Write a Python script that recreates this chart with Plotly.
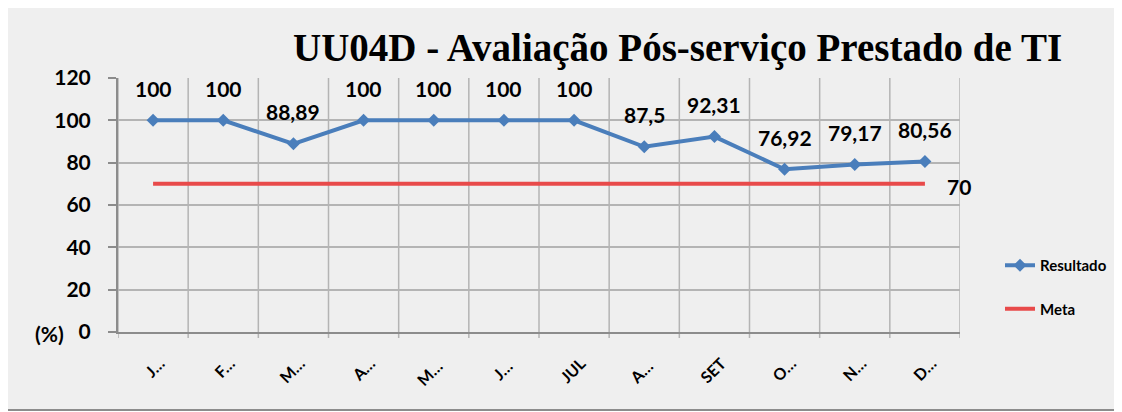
import plotly.graph_objects as go

categories = ["J…", "F…", "M…", "A…", "M… ", "J… ", "JUL", "A… ", "SET", "O…", "N…", "D…"]
resultado = [100, 100, 88.89, 100, 100, 100, 100, 87.5, 92.31, 76.92, 79.17, 80.56]
meta = [70] * 12
y_ticks = [0, 20, 40, 60, 80, 100, 120]

title = "UU04D - Avaliação Pós-serviço Prestado de TI"
font_main = "Lato, 'Open Sans', sans-serif"

OFF = 8  # page offset of the figure in the screenshot
W, H = 1122, 412
L, T = 118 - OFF, 78 - OFF
pw, ph = 842, 254
R = W - L - pw
B = H - T - ph

def px_x(p):
    return (p - OFF - L) / pw

def px_y(p):
    return (T + ph - (p - OFF)) / ph

fig = go.Figure()
fig.add_trace(go.Scatter(
    x=categories, y=resultado, name="Resultado", mode="lines+markers",
    legendgroup="r",
    line=dict(color="#4A7EBB", width=4),
    marker=dict(symbol="diamond", size=10, color="#4A7EBB"),
))
fig.add_trace(go.Scatter(
    x=categories, y=meta, name="Meta", mode="lines",
    legendgroup="m",
    line=dict(color="#E84A4A", width=4),
))

lab_font = dict(family=font_main, size=21, color="black", weight="bold")
annotations = []
for c, v in zip(categories, resultado):
    annotations.append(dict(
        x=c, y=v, xref="x", yref="y", text=("%g" % v).replace(".", ","),
        showarrow=False, yshift=32, font=lab_font,
    ))
annotations.append(dict(
    x=categories[-1], y=meta[-1], xref="x", yref="y", text=str(meta[-1]),
    showarrow=False, xshift=34, yshift=-3, font=lab_font,
))
annotations.append(dict(
    x=px_x(49), y=px_y(333), xref="paper", yref="paper", text="(%)", showarrow=False,
    font=lab_font, xanchor="center", yanchor="middle",
))
annotations.append(dict(
    x=px_x(677), y=px_y(48), xref="paper", yref="paper", text=title, showarrow=False,
    font=dict(family="'Liberation Serif', 'DejaVu Serif', serif", size=39, color="black", weight="bold"),
    xanchor="center", yanchor="middle",
))

shapes = [dict(
    type="rect", xref="paper", yref="paper",
    x0=px_x(5), x1=px_x(1135), y0=px_y(410), y1=px_y(6),
    fillcolor="#EFEFEF", line=dict(color="#8C8C8C", width=2), layer="below",
)]
for i in range(13):
    shapes.append(dict(
        type="line", xref="x", yref="paper", x0=i - 0.5, x1=i - 0.5, y0=px_y(338), y1=1,
        line=dict(color="#B4B4B4", width=1.5), layer="below",
    ))

fig.update_layout(
    width=W, height=H,
    margin=dict(l=L, r=R, t=T, b=B, pad=0, autoexpand=False),
    paper_bgcolor="white",
    plot_bgcolor="rgba(0,0,0,0)",
    showlegend=True,
    legend=dict(
        x=px_x(1000), y=px_y(249), xanchor="left", yanchor="top",
        font=dict(family=font_main, size=15, color="black", weight="bold"),
        tracegroupgap=21, bgcolor="rgba(0,0,0,0)",
    ),
    annotations=annotations,
    shapes=shapes,
)

fig.update_xaxes(
    type="category", tickangle=-45, automargin=False,
    tickfont=dict(family=font_main, size=16, color="black", weight="bold"),
    showgrid=False, showline=True, linecolor="#8C8C8C", linewidth=2,
    ticks="outside", ticklen=14, tickcolor="rgba(0,0,0,0)",
    ticklabelshift=7,
    range=[-0.5, 11.5],
)

fig.update_yaxes(
    range=[0, 120], tickvals=y_ticks, automargin=False,
    tickfont=lab_font,
    showgrid=True, gridcolor="#B4B4B4", gridwidth=1.5,
    showline=True, linecolor="#8C8C8C", linewidth=2,
    ticks="outside", ticklen=8, tickcolor="#8C8C8C", tickwidth=2,
    ticklabelstandoff=13,
    zeroline=False,
)

fig.write_html("out.html")
